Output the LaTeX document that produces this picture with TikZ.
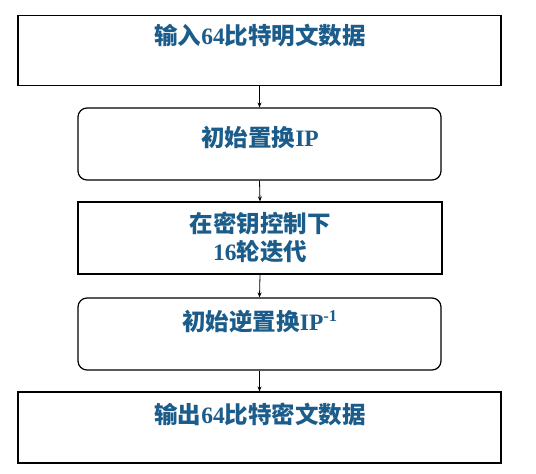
\documentclass[tikz,border=0pt]{standalone}
\usepackage{fontspec}
\setmainfont{Liberation Serif}
\newfontfamily\cjk{Noto Sans CJK SC}
\usetikzlibrary{arrows.meta}
\definecolor{txtblue}{RGB}{28,92,138}
\begin{document}
\begin{tikzpicture}[x=1pt,y=-1pt,
  box/.style={draw=black,line width=1.2pt,fill=white},
  rbox/.style={box,rounded corners=9pt},
  lbl/.style={text=txtblue,font=\fontsize{23.5}{28}\selectfont\bfseries,inner sep=0pt,align=center},
  arr/.style={draw=black,line width=0.8pt,-{Stealth[length=5pt,width=4pt]}}]
\useasboundingbox (0,0) rectangle (536,474);
\node[box,minimum width=483pt,minimum height=70pt,inner sep=0pt] (b1) at (259.5,50.5) {};
\node[rbox,minimum width=363pt,minimum height=72pt,inner sep=0pt] (b2) at (259.5,144) {};
\node[box,minimum width=364pt,minimum height=72pt,inner sep=0pt] (b3) at (260,238) {};
\node[rbox,minimum width=363pt,minimum height=72pt,inner sep=0pt] (b4) at (259.5,334) {};
\node[box,minimum width=483pt,minimum height=71pt,inner sep=0pt] (b5) at (259.5,427.5) {};
\node[lbl] (t1) at (260,36) {{\cjk 输入}64{\cjk 比特明文数据}};
\node[lbl] (t2) at (260,137) {{\cjk 初始置换}IP};
\node[lbl] (t3) at (260,237) {{\cjk 在密钥控制下}\\16{\cjk 轮迭代}};
\node[lbl] (t4) at (260,322) {{\cjk 初始逆置换}IP\textsuperscript{-1}};
\node[lbl] (t5) at (260,414) {{\cjk 输出}64{\cjk 比特密文数据}};
\draw[arr] (b1.south) -- (b2.north);
\draw[arr] (b2.south) -- (b3.north);
\draw[arr] (b3.south) -- (b4.north);
\draw[arr] (b4.south) -- (b5.north);
\end{tikzpicture}
\end{document}
